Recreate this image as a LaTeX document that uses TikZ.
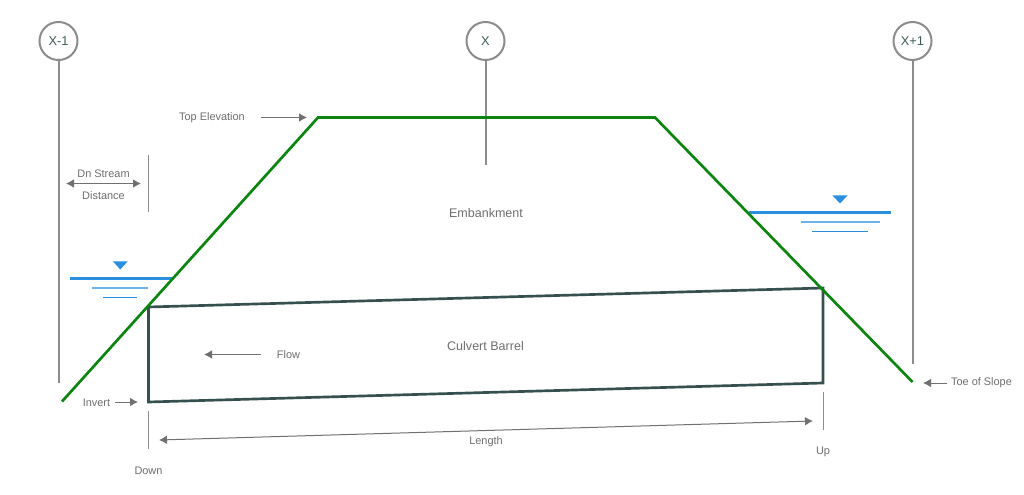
\documentclass[tikz,border=0pt]{standalone}
\usepackage{fontspec}
\setmainfont{Liberation Sans}
\definecolor{gridgrey}{HTML}{8C8C8C}
\definecolor{lblgrey}{HTML}{6E6E6E}
\definecolor{arrgrey}{HTML}{707070}
\definecolor{green1}{HTML}{0B8410}
\definecolor{barrel}{HTML}{35504F}
\definecolor{water}{HTML}{2B8FE0}
\definecolor{water2}{HTML}{6DB3EA}
\definecolor{gridtxt}{HTML}{3F5A5A}
\usetikzlibrary{arrows.meta}
\tikzset{
  gridcircle/.style={circle,draw=gridgrey,line width=1.5pt,fill=white,minimum size=28.5pt,inner sep=0pt,text=gridtxt,font=\fontsize{9.6}{11}\selectfont},
  gridline/.style={draw=gridgrey,line width=1.5pt},
  lbl/.style={text=lblgrey,inner sep=0pt,font=\fontsize{8.2}{10}\selectfont},
  biglbl/.style={text=lblgrey,inner sep=0pt,font=\fontsize{9.4}{11}\selectfont},
  tickline/.style={draw=gridgrey,line width=0.7pt},
  arr/.style={draw=arrgrey,line width=0.75pt,-{Latex[length=6pt,width=6.5pt]}},
  dblarr/.style={draw=arrgrey,line width=0.75pt,{Latex[length=6pt,width=6.5pt]}-{Latex[length=6pt,width=6.5pt]}},
  embank/.style={draw=green1,line width=2pt,line join=miter},
  culvert/.style={draw=barrel,line width=2pt,line join=miter},
  wl1/.style={draw=water,line width=1.7pt},
  wl2/.style={draw=water2,line width=0.9pt},
  wl3/.style={draw=water,line width=0.8pt},
  wtri/.style={fill=water,draw=none},
}
\begin{document}
\begin{tikzpicture}[x=0.75pt,y=-0.75pt]
\useasboundingbox (0,0) rectangle (1024,495);
\fill[white] (0,0) rectangle (1024,495);
% grid lines
\node[gridcircle] (xm) at (58.5,41) {X-1};
\node[gridcircle] (x0) at (485.5,41) {X};
\node[gridcircle] (xp) at (912.5,41) {X+1};
\coordinate (xmb) at (58.5,383);
\coordinate (x0b) at (485.5,165);
\coordinate (xpb) at (912.5,364);
\draw[gridline] (xm) -- (xmb);
\draw[gridline] (x0) -- (x0b);
\draw[gridline] (xp) -- (xpb);
% water levels
\coordinate (wla) at (70,278.5); \coordinate (wlb) at (172,278.5);
\coordinate (wlc) at (92,288); \coordinate (wld) at (148,288);
\coordinate (wle) at (103,297.5); \coordinate (wlf) at (137,297.5);
\draw[wl1] (wla) -- (wlb);
\draw[wl2] (wlc) -- (wld);
\draw[wl3] (wle) -- (wlf);
\fill[wtri] (113,261.5) -- (127.5,261.5) -- (120.3,269.5) -- cycle;
\coordinate (wra) at (749,212.5); \coordinate (wrb) at (890.5,212.5);
\coordinate (wrc) at (800.5,222); \coordinate (wrd) at (879.5,222);
\coordinate (wre) at (812,231.5); \coordinate (wrf) at (868,231.5);
\draw[wl1] (wra) -- (wrb);
\draw[wl2] (wrc) -- (wrd);
\draw[wl3] (wre) -- (wrf);
\fill[wtri] (832.5,195.5) -- (847.5,195.5) -- (840,203.5) -- cycle;
% barrel
\coordinate (b1) at (148.5,307);
\coordinate (b2) at (823,288);
\coordinate (b3) at (823,383);
\coordinate (b4) at (148.5,402);
\draw[culvert] (b1) -- (b2) -- (b3) -- (b4) -- cycle;
% embankment
\coordinate (toeL) at (62,401.5);
\coordinate (topL) at (318,117.5);
\coordinate (topR) at (655,117.5);
\coordinate (toeR) at (912.5,382);
\draw[embank] (toeL) -- (topL) -- (topR) -- (toeR);
% labels
\node[biglbl] (emb) at (486,213.5) {Embankment};
\node[biglbl] (cb) at (485.5,346) {Culvert Barrel};
\node[lbl] (te) at (212,118) {Top Elevation};
\coordinate (tea) at (261,117.5); \coordinate (teb) at (307,117.5);
\draw[arr] (tea) -- (teb);
\node[lbl] (dn) at (103.5,173.5) {Dn Stream};
\node[lbl] (dist) at (103.5,195.5) {Distance};
\coordinate (da) at (66,183.5); \coordinate (db) at (141,183.5);
\draw[dblarr] (da) -- (db);
\coordinate (dta) at (148.5,155); \coordinate (dtb) at (148.5,212);
\draw[tickline] (dta) -- (dtb);
\node[lbl] (flow) at (288.5,355) {Flow};
\coordinate (fa) at (261,354.5); \coordinate (fb) at (204,354.5);
\draw[arr] (fa) -- (fb);
\node[lbl] (inv) at (96.5,402.5) {Invert};
\coordinate (ia) at (115,402); \coordinate (ib) at (138,402);
\draw[arr] (ia) -- (ib);
\coordinate (dwa) at (148.5,411); \coordinate (dwb) at (148.5,449);
\draw[tickline] (dwa) -- (dwb);
\node[lbl] (down) at (148.5,470.5) {Down};
\coordinate (ua) at (823,392); \coordinate (ub) at (823,430);
\draw[tickline] (ua) -- (ub);
\node[lbl] (up) at (823,451.5) {Up};
\coordinate (la) at (159,440); \coordinate (lb) at (813,421);
\draw[dblarr] (la) -- (lb);
\node[lbl] (len) at (486,442) {Length};
\node[lbl] (toe) at (981.5,383) {Toe of Slope};
\coordinate (ta) at (947,383); \coordinate (tb) at (923,383);
\draw[arr] (ta) -- (tb);
\end{tikzpicture}
\end{document}
